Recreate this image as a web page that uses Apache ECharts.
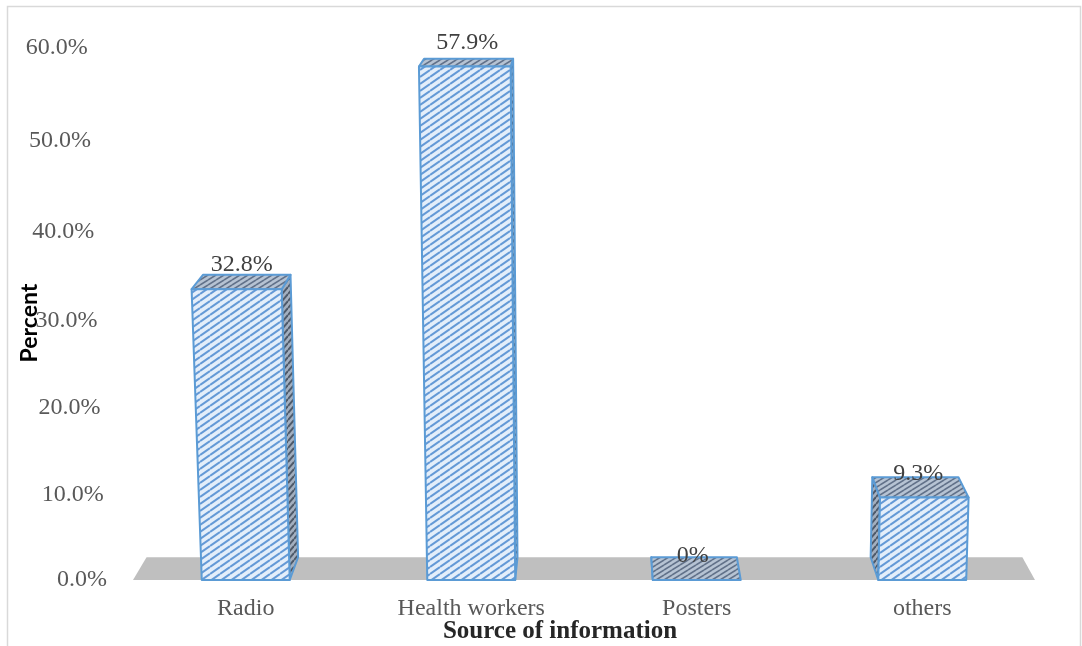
<!DOCTYPE html>
<html>
<head>
<meta charset="utf-8">
<title>Source of information</title>
<script src="https://cdn.jsdelivr.net/npm/echarts@6/dist/echarts.min.js"></script>
<style>
  html, body { margin: 0; padding: 0; background: #ffffff; }
  #chart { width: 1082px; height: 646px; }
</style>
</head>
<body>
<div id="chart"></div>
<script>
// ---- data ----
const categories = ['Radio', 'Health workers', 'Posters', 'others'];
const percentValues = [32.8, 57.9, 0, 9.3];
const yTicks = [0, 10, 20, 30, 40, 50, 60];

// ---- look ----
const SERIF = "'Liberation Serif', 'Times New Roman', serif";
const EDGE = '#5b9bd5';

// simple one-point perspective: back points shrink toward a vanishing point
const VP = [600, -204];
const DEPTH = 0.029;
function project(p) {
  return [VP[0] + (p[0] - VP[0]) * (1 - DEPTH), VP[1] + (p[1] - VP[1]) * (1 - DEPTH)];
}
// slight sideways lean of tall shapes (camera turned a little)
const LEAN_X = 623;
const LEAN = 8.3e-5;
function warp(p, yFloor) {
  return [p[0] - (yFloor - p[1]) * LEAN * (LEAN_X - p[0]), p[1]];
}

// tiled diagonal hatch used on the box faces
function hatch(bg, stripe, w, h, lw) {
  const c = document.createElement('canvas');
  c.width = w; c.height = h;
  const g = c.getContext('2d');
  g.fillStyle = bg;
  g.fillRect(0, 0, w, h);
  g.strokeStyle = stripe;
  g.lineWidth = lw;
  for (let k = -2; k <= 2; k++) {
    g.beginPath();
    g.moveTo(0, h + k * h);
    g.lineTo(w, k * h);
    g.stroke();
  }
  return { image: c, repeat: 'repeat' };
}
const frontFill = hatch('#e4eefa', '#6499d6', 10, 7, 2);
const sideFill = hatch('#a3afbf', '#4e5a6a', 6, 7, 2);
const topFill = hatch('#b6c3d3', '#617189', 8, 5, 1.6);

function fmtPct(v) { return v === 0 ? '0%' : v.toFixed(1) + '%'; }

// y tick labels lean slightly with the perspective
const rich = {};
yTicks.forEach(function (t) {
  const right = 6 + t * 0.32;
  const down = [0, 3, 5, 7, 6, 4, 0][t / 10];
  rich['t' + t] = {
    fontFamily: SERIF, fontSize: 24, color: '#595959',
    padding: [down * 2, right, 0, 0]
  };
});

const chart = echarts.init(document.getElementById('chart'));
chart.setOption({
  animation: false,
  grid: { left: 133, right: 47, top: 48, bottom: 66 },
  xAxis: {
    type: 'category',
    data: categories,
    axisLine: { show: false },
    axisTick: { show: false },
    axisLabel: { fontFamily: SERIF, fontSize: 24, color: '#595959', margin: 17 }
  },
  yAxis: {
    type: 'value',
    min: 0, max: 60, interval: 10,
    axisLine: { show: false },
    axisTick: { show: false },
    splitLine: { show: false },
    axisLabel: {
      margin: 20,
      formatter: function (v) { return '{t' + v + '|' + v.toFixed(1) + '%}'; },
      rich: rich
    }
  },
  graphic: [
    {
      type: 'rect', z: 0, silent: true,
      shape: { x: 7.5, y: 6.5, width: 1073, height: 700 },
      style: { fill: 'none', stroke: '#d9d9d9', lineWidth: 1.5 }
    },
    {
      type: 'text', x: 30, y: 323, rotation: Math.PI / 2,
      style: {
        text: 'Percent', font: "bold 23px Lato, 'Open Sans', sans-serif", fill: '#000000',
        textAlign: 'center', textVerticalAlign: 'middle', align: 'center', verticalAlign: 'middle'
      }
    },
    {
      type: 'text', x: 560, y: 632,
      style: {
        text: 'Source of information', font: 'bold 25px ' + SERIF, fill: '#262626',
        textAlign: 'center', textVerticalAlign: 'middle', align: 'center', verticalAlign: 'middle'
      }
    }
  ],
  series: [
    {
      // floor plane under the boxes
      type: 'custom',
      data: [[0, 0]],
      z: 1,
      silent: true,
      renderItem: function (params, api) {
        const cs = params.coordSys;
        const y0 = api.coord([0, 0])[1];
        const a = [cs.x, y0], b = [cs.x + cs.width, y0];
        return {
          type: 'polygon',
          shape: { points: [a, b, project(b), project(a)] },
          style: { fill: '#bfbfbf' }
        };
      }
    },
    {
      type: 'custom',
      data: percentValues.map(function (v, i) { return [i, v]; }),
      encode: { x: 0, y: 1 },
      z: 2,
      renderItem: function (params, api) {
        const i = api.value(0);
        const v = api.value(1);
        const base = api.coord([i, 0]);
        const top = api.coord([i, v]);
        const w = api.size([1, 0])[0] * 0.39;
        const x1 = base[0] - w / 2, x2 = base[0] + w / 2;
        const yb = base[1], yt = top[1];
        const W = function (pts) { return pts.map(function (p) { return warp(p, yb); }); };
        const faceStyle = function (fill) {
          return { fill: fill, stroke: EDGE, lineWidth: 2, lineJoin: 'round' };
        };
        const children = [];
        if (x2 < VP[0]) {
          children.push({
            type: 'polygon',
            shape: { points: W([[x2, yt], [x2, yb], project([x2, yb]), project([x2, yt])]) },
            style: faceStyle(sideFill)
          });
        } else if (x1 > VP[0]) {
          children.push({
            type: 'polygon',
            shape: { points: W([[x1, yt], [x1, yb], project([x1, yb]), project([x1, yt])]) },
            style: faceStyle(sideFill)
          });
        }
        children.push({
          type: 'polygon',
          shape: { points: W([[x1, yt], [x2, yt], project([x2, yt]), project([x1, yt])]) },
          style: faceStyle(topFill)
        });
        if (yb - yt > 0.5) {
          children.push({
            type: 'polygon',
            shape: { points: W([[x1, yt], [x2, yt], [x2, yb], [x1, yb]]) },
            style: faceStyle(frontFill)
          });
        }
        children.push({
          type: 'text',
          x: base[0] - 4, y: yt - 24,
          style: {
            text: fmtPct(v), font: '24px ' + SERIF, fill: '#404040',
            textAlign: 'center', textVerticalAlign: 'middle', align: 'center', verticalAlign: 'middle'
          }
        });
        return { type: 'group', children: children };
      }
    }
  ]
});
</script>
</body>
</html>
